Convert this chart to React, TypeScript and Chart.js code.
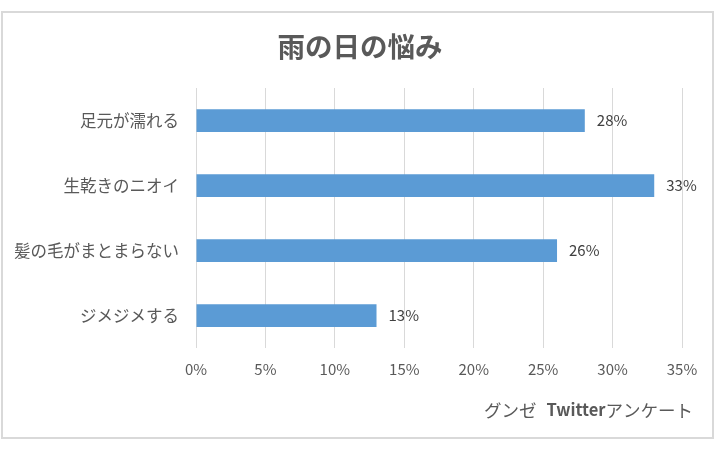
import React, { useEffect, useRef } from "react";
import { Chart, registerables } from "chart.js";

Chart.register(...registerables);

const chartTitle = "雨の日の悩み";
const categories = ["足元が濡れる", "生乾きのニオイ", "髪の毛がまとまらない", "ジメジメする"];
const values = [28, 33, 26, 13];
const xMin = 0;
const xMax = 35;
const xStep = 5;
const sourcePrefix = "グンゼ";
const sourceBold = "Twitter";
const sourceSuffix = "アンケート";

const FONT = '"Noto Sans CJK JP", "Open Sans", sans-serif';
const TEXT = "#595959";
const BAR = "#5B9BD5";
const GRID = "#D9D9D9";

const labelsPlugin = {
  id: "valueLabels",
  afterDatasetsDraw(chart: any) {
    const ctx = chart.ctx;
    const meta = chart.getDatasetMeta(0);
    ctx.save();
    ctx.font = `15px ${FONT}`;
    ctx.fillStyle = "#404040";
    ctx.textAlign = "left";
    ctx.textBaseline = "middle";
    meta.data.forEach((el: any, i: number) => {
      ctx.fillText(`${values[i]}%`, el.x + 12, el.y);
    });
    ctx.restore();
  },
};

const footerPlugin = {
  id: "sourceFooter",
  afterDraw(chart: any) {
    const ctx = chart.ctx;
    ctx.save();
    ctx.fillStyle = TEXT;
    ctx.textBaseline = "middle";
    ctx.textAlign = "right";
    const y = 410;
    let x = chart.chartArea.right + 11;
    ctx.font = `17.5px ${FONT}`;
    ctx.fillText(sourceSuffix, x, y);
    x -= ctx.measureText(sourceSuffix).width;
    ctx.font = `bold 16.5px ${FONT}`;
    ctx.fillText(sourceBold, x, y);
    x -= ctx.measureText(sourceBold).width + 10;
    ctx.font = `17.5px ${FONT}`;
    ctx.fillText(sourcePrefix, x, y);
    ctx.restore();
  },
};

export default function App() {
  const ref = useRef<HTMLCanvasElement | null>(null);

  useEffect(() => {
    if (!ref.current) return;
    const chart = new Chart(ref.current, {
      type: "bar",
      data: {
        labels: categories,
        datasets: [
          {
            data: values,
            backgroundColor: BAR,
            borderWidth: 0,
            barPercentage: 0.35,
            categoryPercentage: 1,
          },
        ],
      },
      options: {
        indexAxis: "y",
        responsive: false,
        animation: false,
        layout: { padding: { left: 11, right: 11, top: 12, bottom: 12 } },
        plugins: {
          legend: { display: false },
          tooltip: { enabled: false },
          title: {
            display: true,
            text: chartTitle,
            color: TEXT,
            font: { family: FONT, size: 27.5, weight: "bold" },
            padding: { top: 18, bottom: 25 },
          },
        },
        scales: {
          x: {
            min: xMin,
            max: xMax,
            ticks: {
              stepSize: xStep,
              callback: (v: any) => `${v}%`,
              color: TEXT,
              font: { family: FONT, size: 15 },
              padding: 12,
            },
            grid: { color: GRID, drawTicks: false },
            border: { display: false },
            afterFit: (scale: any) => {
              scale.height = 90;
              scale.paddingRight = 38;
            },
          },
          y: {
            ticks: {
              color: TEXT,
              font: { family: FONT, size: 16.5 },
              padding: 17,
            },
            grid: { display: false, drawTicks: false },
            border: { display: false },
            afterFit: (scale: any) => {
              scale.width = 185;
            },
          },
        },
      },
      plugins: [labelsPlugin, footerPlugin],
    });
    return () => chart.destroy();
  }, []);

  return (
    <div style={{ position: "absolute", left: 0, top: 0, width: 720, height: 450, background: "#fff" }}>
      <canvas ref={ref} width={720} height={450} style={{ display: "block" }} />
      <div
        style={{
          position: "absolute",
          left: 1,
          top: 11,
          width: 709,
          height: 424,
          border: `2px solid ${GRID}`,
          pointerEvents: "none",
        }}
      />
    </div>
  );
}
